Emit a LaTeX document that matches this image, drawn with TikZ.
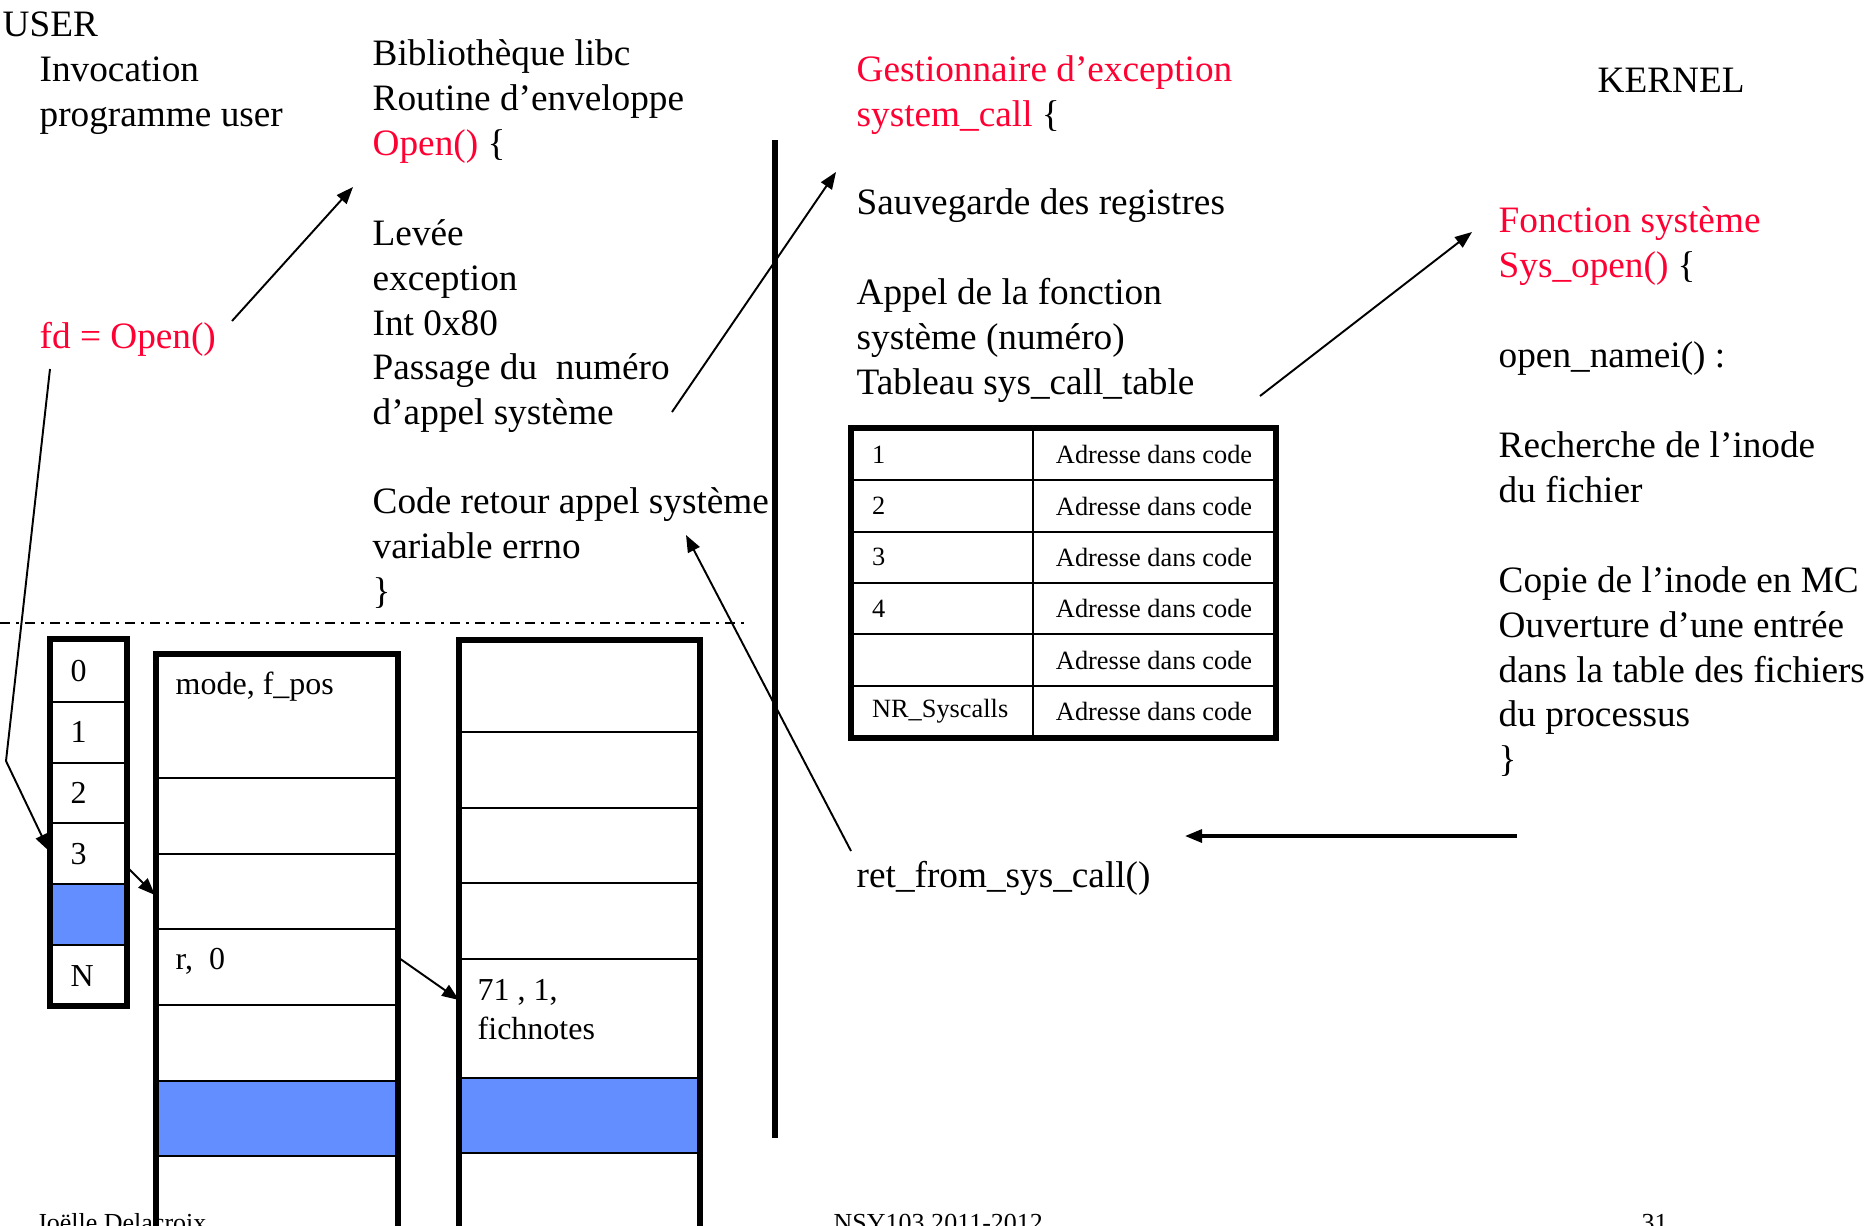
\documentclass[tikz,border=0pt]{standalone}
\usepackage{fontspec}
\setmainfont{Liberation Serif}
\usetikzlibrary{arrows.meta}

\definecolor{pptred}{RGB}{255,0,51}
\definecolor{pptblue}{RGB}{98,142,255}

\newcommand\bodyfont{\fontsize{10.6}{12.7}\selectfont}
\newcommand\cellfont{\fontsize{9.1}{11.1}\selectfont}
\newcommand\tabfont{\fontsize{7.5}{9}\selectfont}
\newcommand\footfont{\fontsize{7.4}{9}\selectfont}
\newcommand\redtext[1]{\textcolor{pptred}{#1}}

\tikzset{
    txt/.style={anchor=north west, inner sep=0pt, align=left, font=\bodyfont},
    celltxt/.style={anchor=north west, inner sep=0pt, align=left, font=\cellfont},
    foot/.style={anchor=base west, inner sep=0pt, font=\footfont},
    cellline/.style={line width=0.6pt},
    border/.style={line width=1.6pt},
    arr/.style={line width=0.55pt, -{Triangle[length=1.7mm,width=1.3mm]}},
    numcell/.style={draw, cellline, anchor=north west, minimum height=5.133mm,
        text width=14.1mm, inner xsep=2mm, inner ysep=0pt, align=left, font=\tabfont},
    adrcell/.style={draw, cellline, anchor=north west, minimum height=5.133mm,
        minimum width=24.2mm, inner sep=0pt, font=\tabfont},
}

% column open at the bottom: left, right, top, row lines
\newcommand{\drawcolumn}[4]{%
    % draw row lines
    \foreach \y in {#4} {%
        \draw[cellline] (#1,\y) -- (#2,\y);}
    % draw border
    \draw[border] (#1,1260) -- (#1,#3) -- (#2,#3) -- (#2,1260);
}

\begin{document}
\begin{tikzpicture}[x=0.1mm,y=-0.1mm]
\useasboundingbox (0,0) rectangle (1864,1225);
\clip (0,0) rectangle (1864,1225);

% user side
\node[txt] (user) at (2,5) {\strut USER};
\node[txt] (invoc) at (39,50) {\strut Invocation\\programme user};
\node[txt, text=pptred] (fdcall) at (39,317) {\strut fd = Open()};
\node[txt] (libc) at (372,34) {\strut Bibliothèque libc\\Routine d’enveloppe\\\redtext{Open()} \{};
\node[txt] (trap) at (372,214) {\strut Levée\\exception\\Int 0x80\\Passage du\ \ numéro\\d’appel système};
\node[txt] (errno) at (372,482) {\strut Code retour appel système\\variable errno\\\}};

% kernel side
\node[txt] (exc) at (856,50) {\strut\redtext{Gestionnaire d’exception}\\\redtext{system\_call} \{};
\node[txt] (save) at (856,183) {\strut Sauvegarde des registres};
\node[txt] (callfn) at (856,273) {\strut Appel de la fonction\\système (numéro)\\Tableau sys\_call\_table};
\node[txt] (kernel) at (1597,61) {\strut KERNEL};
\node[txt] (sysopen) at (1498,201) {\strut\redtext{Fonction système}\\\redtext{Sys\_open()} \{};
\node[txt] (namei) at (1498,336) {\strut open\_namei() :};
\node[txt] (search) at (1498,426) {\strut Recherche de l’inode\\du fichier};
\node[txt] (copy) at (1498,561) {\strut Copie de l’inode en MC\\Ouverture d’une entrée\\dans la table des fichiers\\du processus\\\}};
\node[txt] (ret) at (856,856) {\strut ret\_from\_sys\_call()};

% separators
\draw[line width=1.5pt] (775,140) -- (775,1138);
\draw[line width=0.6pt, dash pattern=on 1mm off 0.6mm on 0.3mm off 0.6mm] (0,623) -- (747,623);

% sys_call_table
\foreach \k/\lab in {0/1,1/2,2/3,3/4,4/{},5/NR\_Syscalls} {%
    \node[numcell] (num\k) at (851,{428+51.33*\k}) {\lab};
    \node[adrcell] (adr\k) at (1032,{428+51.33*\k}) {Adresse dans code};}
\draw[border] (num0.north west) rectangle (adr5.south east);

% descriptor table
\fill[pptblue] (50,884) rectangle (127,945);
\foreach \y in {702,763,823,884,945} {%
    \draw[cellline] (50,\y) -- (127,\y);}
\draw[border] (50,639) rectangle (127,1006);
\foreach \k/\lab in {0/0,1/1,2/2,3/3,5/N} {%
    \node[anchor=west, inner sep=0pt, font=\cellfont] (fd\k) at (70,{671+61*\k}) {\lab};}

% open file table and inode table
\fill[pptblue] (156,1081) rectangle (398,1156);
\fill[pptblue] (459,1078) rectangle (700,1153);
\drawcolumn{156}{398}{654}{778,854,929,1005,1081,1156}
\drawcolumn{459}{700}{640}{732,808,883,959,1078,1153}
\node[celltxt] (fmode) at (175,666) {\strut mode, f\_pos};
\node[celltxt] (fread) at (175,941) {\strut r,\ \ 0};
\node[celltxt] (inode) at (477,972) {\strut 71 , 1,\\fichnotes};

% arrow ends
\coordinate (callOut) at (232,321);
\coordinate (wrapIn) at (353,187);
\coordinate (trapOut) at (672,412);
\coordinate (excIn) at (836,172);
\coordinate (tabOut) at (1260,396);
\coordinate (sysIn) at (1472,232);
\coordinate (sysBack) at (1517,836);
\coordinate (retIn) at (1185,836);
\coordinate (retOut) at (851,851);
\coordinate (errIn) at (686,535);
\coordinate (fdDown) at (50,369);
\coordinate (fdBend) at (6,761);
\coordinate (fdEntry) at (49,851);
\coordinate (fdOut) at (128,868);
\coordinate (fileIn) at (155,895);
\coordinate (fileOut) at (399,958);
\coordinate (inodeIn) at (459,1000);

% draw arrows
\draw[arr] (callOut) -- (wrapIn);
\draw[arr] (trapOut) -- (excIn);
\draw[arr] (tabOut) -- (sysIn);
\draw[arr, line width=0.9pt] (sysBack) -- (retIn);
\draw[arr] (retOut) -- (errIn);
\draw[arr] (fdDown) -- (fdBend) -- (fdEntry);
\draw[arr] (fdOut) -- (fileIn);
\draw[arr] (fileOut) -- (inodeIn);

% footer
\node[foot] (author) at (36,1231) {Joëlle Delacroix};
\node[foot] (course) at (833,1231) {NSY103 2011-2012};
\node[foot] (page) at (1641,1231) {31};
\end{tikzpicture}
\end{document}
